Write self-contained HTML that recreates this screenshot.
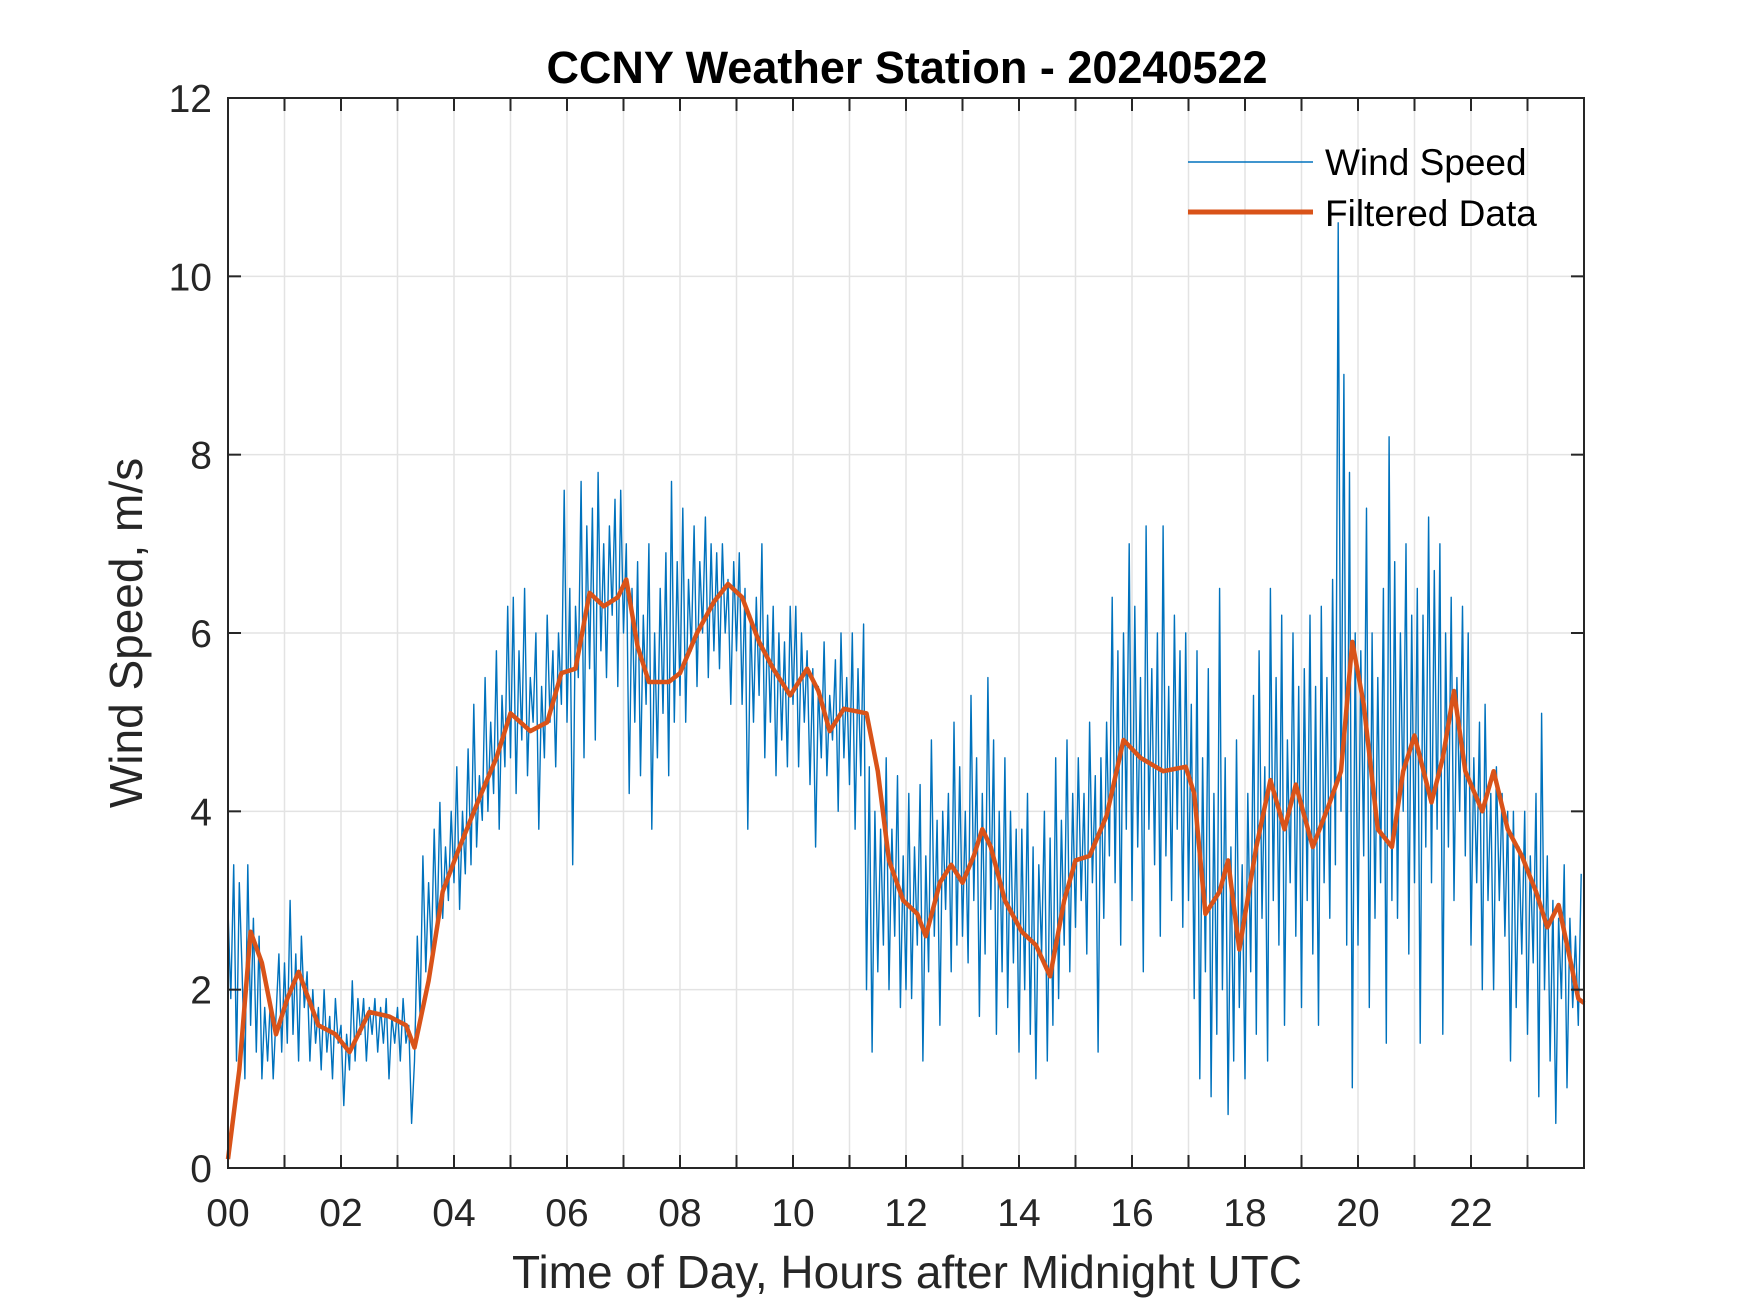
<!DOCTYPE html>
<html><head><meta charset="utf-8"><style>
html,body{margin:0;padding:0;background:#fff;}
svg{display:block;font-family:"Liberation Sans",Arial,sans-serif;}
</style></head><body>
<svg id="chart" width="1750" height="1313" viewBox="0 0 1750 1313">
<rect x="0" y="0" width="1750" height="1313" fill="#fff"/>
<g id="grid"></g>
<g id="series"></g>
<g id="axes"></g>
<text x="907" y="83" text-anchor="middle" font-size="45" font-weight="bold" fill="#000">CCNY Weather Station - 20240522</text>
<text x="907" y="1288" text-anchor="middle" font-size="46" fill="#262626">Time of Day, Hours after Midnight UTC</text>
<text x="0" y="0" transform="translate(142,633) rotate(-90)" text-anchor="middle" font-size="46" fill="#262626">Wind Speed, m/s</text>
<g>
<line x1="1188" y1="162" x2="1313" y2="162" stroke="#0072BD" stroke-width="1.6"/>
<text x="1325" y="175" font-size="37" fill="#000">Wind Speed</text>
<line x1="1188" y1="212" x2="1313" y2="212" stroke="#D95319" stroke-width="5"/>
<text x="1325" y="226" font-size="37" fill="#000">Filtered Data</text>
</g>
</svg>
<script>
const rawPerHour = 20;
const rawValues = [
2.9,1.9,3.4,1.2,3.2,2.2,1.0,3.4,1.6,2.8,1.3,2.6,1.0,1.8,1.2,1.9,1.0,1.7,2.4,1.3,
2.3,1.4,3.0,1.5,2.4,1.2,2.6,1.8,2.2,1.2,2.0,1.4,1.8,1.1,2.0,1.3,1.7,1.0,1.9,1.4,
1.6,0.7,1.5,1.1,2.1,1.2,1.9,1.5,1.9,1.2,1.8,1.5,1.9,1.3,1.8,1.4,1.9,1.0,1.7,1.4,
1.8,1.2,1.9,1.4,1.6,0.5,1.2,2.6,1.7,3.5,2.2,3.2,2.4,3.8,2.6,4.1,2.8,3.6,3.0,4.0,
3.2,4.5,2.9,4.0,3.3,4.7,3.4,5.2,3.6,4.4,3.9,5.5,4.0,5.0,4.2,5.8,3.8,5.3,4.5,6.3,
4.6,6.4,4.2,5.8,4.8,6.5,4.4,5.5,5.0,6.0,3.8,5.4,4.6,6.2,5.0,5.8,4.5,6.0,5.2,7.6,
5.0,6.5,3.4,6.3,5.5,7.7,4.6,7.2,5.6,7.4,4.8,7.8,5.8,7.0,5.5,7.2,6.2,7.5,5.4,7.6,
6.0,7.0,4.2,6.5,5.0,6.8,4.4,6.2,5.2,7.0,3.8,6.0,4.6,6.5,5.1,6.9,4.4,7.7,5.0,6.8,
5.3,7.4,5.0,6.6,5.8,7.2,5.4,6.8,6.0,7.3,5.5,7.0,5.8,6.9,5.6,7.0,6.0,6.6,5.2,6.8,
5.8,6.9,5.2,6.5,3.8,6.2,5.0,6.4,5.3,7.0,4.6,6.2,5.0,6.3,4.4,6.0,4.8,5.9,4.5,6.3,
5.2,6.3,4.5,6.0,5.0,5.8,4.3,5.6,3.6,5.4,4.6,5.9,4.4,5.3,4.8,5.7,4.0,6.0,4.6,5.5,
4.3,6.0,3.8,5.6,4.4,6.1,2.0,4.5,1.3,4.0,2.2,3.8,2.5,4.6,2.0,3.8,2.6,4.4,1.8,3.5,
2.0,4.2,1.9,3.6,2.5,4.3,1.2,3.5,2.2,4.8,2.6,3.9,1.6,4.0,2.9,4.2,2.2,5.0,2.5,4.5,
2.6,4.0,2.3,5.3,3.0,4.6,1.7,4.2,2.4,5.5,2.9,4.8,1.5,4.0,2.2,4.6,1.8,4.0,2.3,3.8,
1.3,3.8,2.0,4.2,1.5,3.6,1.0,3.4,2.4,4.0,1.2,3.7,1.6,4.6,1.9,3.9,2.5,4.8,2.2,4.2,
2.7,4.6,3.0,4.2,2.4,5.0,3.2,4.4,1.3,4.6,2.8,5.0,3.5,6.4,3.2,5.8,2.5,6.0,3.8,7.0,
3.0,6.3,3.6,5.5,2.2,7.2,3.8,5.6,3.4,6.0,2.6,7.2,3.5,5.4,3.0,6.2,3.8,5.8,2.7,6.0,
3.0,5.2,1.9,5.8,1.0,4.6,2.2,5.6,0.8,4.2,1.5,6.5,2.0,4.6,0.6,3.6,1.2,4.8,1.8,3.4,
1.0,4.2,2.2,5.3,1.5,5.8,2.8,4.5,1.2,6.5,3.0,5.5,2.5,6.2,1.6,4.8,3.2,6.0,2.6,5.4,
1.8,5.6,3.0,6.2,2.4,5.4,1.6,6.3,3.2,5.5,2.8,6.6,3.4,10.6,4.0,8.9,2.5,7.8,0.9,6.0,
2.5,5.8,3.5,7.4,1.8,6.0,2.8,5.5,3.2,6.5,1.4,8.2,3.0,6.8,2.8,6.0,4.0,7.0,2.4,6.2,
3.2,6.5,1.4,6.2,3.6,7.3,3.2,6.7,3.8,7.0,1.5,6.0,3.6,6.4,3.0,5.5,4.0,6.3,3.5,6.0,
2.5,4.6,3.2,5.0,2.0,5.2,3.0,4.2,2.0,4.5,3.0,4.2,2.6,4.0,1.2,4.0,1.8,3.6,2.4,4.0,
1.5,3.5,2.3,4.2,0.8,5.1,2.0,3.5,1.2,3.0,0.5,2.8,1.9,3.4,0.9,2.8,1.8,2.6,1.6,3.3
];
const filtHours = [0,0.2,0.4,0.6,0.85,1.05,1.25,1.6,1.9,2.15,2.5,2.85,3.15,3.3,3.55,3.8,4.1,4.45,4.75,5.0,5.35,5.65,5.9,6.15,6.4,6.65,6.9,7.05,7.25,7.45,7.8,8.0,8.3,8.6,8.85,9.1,9.4,9.65,9.95,10.25,10.45,10.65,10.9,11.3,11.5,11.7,11.95,12.2,12.35,12.6,12.8,13.0,13.2,13.35,13.5,13.75,14.05,14.3,14.55,14.8,15.0,15.25,15.55,15.85,16.15,16.55,16.95,17.1,17.3,17.55,17.7,17.9,18.2,18.45,18.7,18.9,19.2,19.5,19.7,19.9,20.1,20.35,20.6,20.8,21.0,21.3,21.5,21.7,21.9,22.2,22.4,22.65,22.9,23.15,23.35,23.55,23.75,23.9,24];
const filtValues = [0.1,1.1,2.65,2.3,1.5,1.9,2.2,1.6,1.5,1.3,1.75,1.7,1.6,1.35,2.1,3.1,3.6,4.15,4.6,5.1,4.9,5.0,5.55,5.6,6.45,6.3,6.4,6.6,5.85,5.45,5.45,5.55,6.0,6.35,6.55,6.4,5.9,5.6,5.3,5.6,5.35,4.9,5.15,5.1,4.45,3.45,3.0,2.85,2.6,3.2,3.4,3.2,3.5,3.8,3.6,3.0,2.65,2.5,2.15,3.0,3.45,3.5,3.95,4.8,4.6,4.45,4.5,4.2,2.85,3.1,3.45,2.45,3.6,4.35,3.8,4.3,3.6,4.1,4.45,5.9,5.2,3.8,3.6,4.45,4.85,4.1,4.6,5.35,4.45,4.0,4.45,3.8,3.5,3.1,2.7,2.95,2.35,1.9,1.85];
const xTickHours = [0,2,4,6,8,10,12,14,16,18,20,22];
const xTickLabels = ["00","02","04","06","08","10","12","14","16","18","20","22"];
const yTicks = [0,2,4,6,8,10,12];
const yTickLabels = ["0","2","4","6","8","10","12"];

const L=228,R=1584,T=98,B=1168,XMAX=24,YMAX=12;
const sx=h=>L+(R-L)*h/XMAX;
const sy=v=>B-(B-T)*v/YMAX;
const NS="http://www.w3.org/2000/svg";
function mk(tag,attrs,parent){const e=document.createElementNS(NS,tag);for(const k in attrs)e.setAttribute(k,attrs[k]);parent.appendChild(e);return e;}
const grid=document.getElementById('grid'),series=document.getElementById('series'),axes=document.getElementById('axes');
for(let h=1;h<24;h++){
  const g=mk('line',{x1:sx(h),x2:sx(h),y1:T,y2:B,stroke:'#e3e3e3','stroke-width':1.5},grid);
  
  
}
yTicks.forEach(v=>{ if(v>0&&v<12){
  const g=mk('line',{x1:L,x2:R,y1:sy(v),y2:sy(v),stroke:'#e3e3e3','stroke-width':1.5},grid);
  
  
}});
let d='';
rawValues.forEach((v,i)=>{const h=i/rawPerHour;d+=(i?'L':'M')+sx(h).toFixed(1)+' '+sy(v).toFixed(1);});
const raw=mk('path',{d:d,fill:'none',stroke:'#0072BD','stroke-width':1.4,'stroke-linejoin':'round'},series);


let d2='';
filtValues.forEach((v,i)=>{d2+=(i?'L':'M')+sx(filtHours[i]).toFixed(1)+' '+sy(v).toFixed(1);});
const filt=mk('path',{d:d2,fill:'none',stroke:'#D95319','stroke-width':4.5,'stroke-linejoin':'round'},series);


const box=mk('rect',{x:L,y:T,width:R-L,height:B-T,fill:'none',stroke:'#262626','stroke-width':2},axes);


for(let h=1;h<24;h++){
  mk('line',{x1:sx(h),x2:sx(h),y1:B,y2:B-13,stroke:'#262626','stroke-width':2},axes);
  mk('line',{x1:sx(h),x2:sx(h),y1:T,y2:T+13,stroke:'#262626','stroke-width':2},axes);
}
xTickHours.forEach((h,i)=>{
  const t=mk('text',{x:sx(h),y:B+58,'text-anchor':'middle','font-size':39,fill:'#262626'},axes);
  t.textContent=xTickLabels[i];
  
  
});
yTicks.forEach((v,i)=>{
  mk('line',{x1:L,x2:L+13,y1:sy(v),y2:sy(v),stroke:'#262626','stroke-width':2},axes);
  mk('line',{x1:R,x2:R-13,y1:sy(v),y2:sy(v),stroke:'#262626','stroke-width':2},axes);
  const t=mk('text',{x:L-16,y:sy(v)+14,'text-anchor':'end','font-size':39,fill:'#262626'},axes);
  t.textContent=yTickLabels[i];
  
  
});
</script>
</body></html>
